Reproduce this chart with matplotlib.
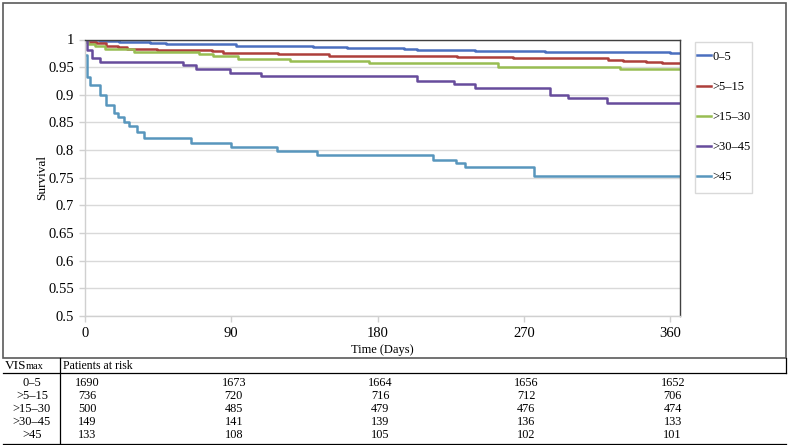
import numpy as np
import matplotlib.pyplot as plt
from matplotlib.lines import Line2D
from matplotlib.patches import Rectangle
import matplotlib.transforms as mtransforms

plt.rcParams['font.family'] = ['Liberation Serif', 'DejaVu Serif']

#------------------------------------------------------------data
groups = ['0–5', '>5–15', '>15–30', '>30–45', '>45']
colors = ['#4a6fbf', '#ad3f3b', '#98bd52', '#674c9c', '#5896bd']

t_0_5 = [0, 9, 21, 40, 50, 93, 140, 161, 196, 204, 240, 283, 331, 360, 366]
s_0_5 = [1, 0.997, 0.995, 0.993, 0.991, 0.988, 0.986, 0.984, 0.983, 0.981,
         0.979, 0.978, 0.977, 0.976, 0.976]

t_5_15 = [0, 1, 7, 13, 20, 26, 44, 78, 85, 119, 150, 229, 263, 284, 322,
          331, 345, 355, 366]
s_5_15 = [1, 0.996, 0.993, 0.988, 0.987, 0.983, 0.981, 0.979, 0.976, 0.974,
          0.971, 0.969, 0.967, 0.966, 0.963, 0.962, 0.960, 0.958, 0.958]

t_15_30 = [0, 0.5, 2, 6, 12, 30, 70, 79, 94, 126, 175, 254, 329, 366]
s_15_30 = [1, 0.995, 0.992, 0.988, 0.982, 0.977, 0.974, 0.970, 0.965, 0.962,
           0.957, 0.951, 0.946, 0.946]

t_30_45 = [0, 1, 4, 9, 60, 68, 89, 108, 204, 227, 240, 286, 297, 321, 366]
s_30_45 = [1, 0.981, 0.966, 0.959, 0.953, 0.946, 0.940, 0.934, 0.925, 0.919,
           0.913, 0.900, 0.894, 0.886, 0.886]

t_45 = [0, 1, 3, 9, 13, 18, 20, 24, 27, 32, 36, 65, 90, 118, 143, 214, 228,
        234, 276, 366]
s_45 = [0.972, 0.933, 0.918, 0.900, 0.881, 0.867, 0.859, 0.851, 0.843, 0.833,
        0.821, 0.813, 0.806, 0.798, 0.791, 0.783, 0.777, 0.769, 0.753, 0.753]

times = [t_0_5, t_5_15, t_15_30, t_30_45, t_45]
survs = [s_0_5, s_5_15, s_15_30, s_30_45, s_45]

risk_days = [0, 90, 180, 270, 360]
risk_0_5 = [1690, 1673, 1664, 1656, 1652]
risk_5_15 = [736, 720, 716, 712, 706]
risk_15_30 = [500, 485, 479, 476, 474]
risk_30_45 = [149, 141, 139, 136, 133]
risk_45 = [133, 108, 105, 102, 101]
risks = [risk_0_5, risk_5_15, risk_15_30, risk_30_45, risk_45]

yticks = np.arange(0.5, 1.001, 0.05)
ytick_labels = ['0.5', '0.55', '0.6', '0.65', '0.7', '0.75', '0.8', '0.85',
                '0.9', '0.95', '1']

#------------------------------------------------------------figure
W, H = 789, 445
fig = plt.figure(figsize=(W/100, H/100), dpi=100)

def fx(px):
    return px/W

def fy(px):
    return 1 - px/H

ax = fig.add_axes([fx(85), fy(316), fx(680)-fx(85), fy(39.5)-fy(316)])

for t, s, c, g in zip(times, survs, colors, groups):
    ax.plot(t, s, drawstyle='steps-post', color=c, lw=1.8, label=g)

ax.set_xlim(0, 366)
ax.set_ylim(0.5, 1)
ax.set_xticks(risk_days)
ax.set_xticklabels([str(d) for d in risk_days], fontsize=10.5)
ax.set_yticks(yticks)
ax.set_yticklabels(ytick_labels, fontsize=10.5)
ax.grid(axis='y', color='#d9d9d9', lw=1)
ax.set_axisbelow(True)
ax.tick_params(axis='both', color='#d0d0d0', length=4, width=1, pad=4)

ax.spines['top'].set_color('#404040')
ax.spines['right'].set_color('#404040')
ax.spines['left'].set_color('#d0d0d0')
ax.spines['bottom'].set_color('#d0d0d0')
for sp in ax.spines.values():
    sp.set_linewidth(1)

ax.set_xlabel('Time (Days)', fontsize=9, labelpad=3)
ax.set_ylabel('Survival', fontsize=9.5, labelpad=0)

#------------------------------------------------------------legend
leg = fig.legend(loc='center left', bbox_to_anchor=(fx(697), fy(117)),
                 fontsize=9, frameon=False,
                 labelspacing=1.45, handlelength=1.15, handletextpad=0.1,
                 borderpad=0, borderaxespad=0)
fig.add_artist(Rectangle((fx(695), fy(193)), fx(752)-fx(695),
                         fy(42)-fy(193), transform=fig.transFigure,
                         fill=False, edgecolor='#d9d9d9', lw=1))

#------------------------------------------------------------outer frame
fig.add_artist(Rectangle((fx(3), fy(358)), fx(786)-fx(3), fy(3)-fy(358),
                         transform=fig.transFigure, fill=False,
                         edgecolor='#5a5a5a', lw=1.2))

#------------------------------------------------------------risk table
def hline(y, x0, x1, lw=0.9):
    fig.add_artist(Line2D([fx(x0), fx(x1)], [fy(y), fy(y)],
                          transform=fig.transFigure, color='k', lw=lw))

def vline(x, y0, y1, lw=0.9):
    fig.add_artist(Line2D([fx(x), fx(x)], [fy(y0), fy(y1)],
                          transform=fig.transFigure, color='k', lw=lw))

hline(373, 3, 786)
hline(443.5, 3, 786)
vline(60, 358, 445)
vline(786, 358, 373)

fig.text(fx(5), fy(366), 'VIS', fontsize=9.5, va='center', ha='left')
fig.text(fx(26), fy(366.5), 'max', fontsize=7.5, va='center', ha='left')
fig.text(fx(63), fy(366), 'Patients at risk', fontsize=8.5, va='center',
         ha='left')

row_y = [383, 396, 409, 422, 435]
blend = mtransforms.blended_transform_factory(ax.transData, fig.transFigure)
for g, r, y in zip(groups, risks, row_y):
    fig.text(fx(32), fy(y), g, fontsize=9, va='center', ha='center')
    for d, n in zip(risk_days, r):
        fig.text(d + 1.5, fy(y), str(n), fontsize=8.8, va='center',
                 ha='center', transform=blend)

fig.savefig('out.png', dpi=100)
